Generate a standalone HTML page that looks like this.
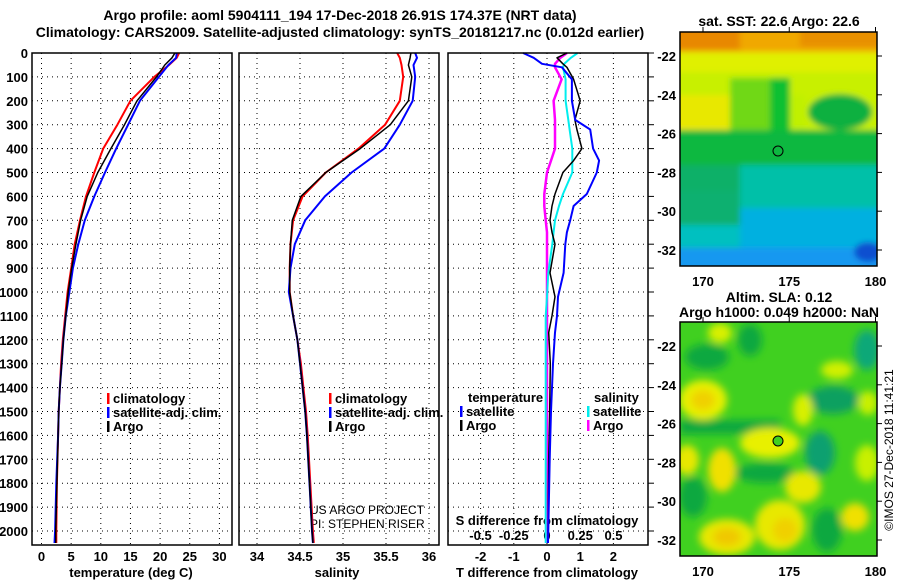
<!DOCTYPE html>
<html><head><meta charset="utf-8">
<style>
body{margin:0;background:#fff;}
svg{display:block;font-family:"Liberation Sans",sans-serif;}
.t{font-weight:bold;font-size:14px;}
</style></head>
<body>
<svg id="c" width="900" height="580" viewBox="0 0 900 580" xmlns="http://www.w3.org/2000/svg">
<defs>
<filter id="bl" filterUnits="userSpaceOnUse" x="650" y="0" width="250" height="300"><feGaussianBlur stdDeviation="3"/></filter>
<filter id="bl2" filterUnits="userSpaceOnUse" x="650" y="290" width="250" height="290"><feGaussianBlur stdDeviation="4"/></filter>
<clipPath id="m1c"><rect x="680" y="32" width="197" height="234"/></clipPath>
<clipPath id="m2c"><rect x="680" y="322" width="197" height="234"/></clipPath>
</defs>
<text class="t" x="340" y="20" text-anchor="middle">Argo profile: aoml 5904111_194 17-Dec-2018 26.91S 174.37E (NRT data)</text>
<text class="t" x="340" y="37" text-anchor="middle">Climatology: CARS2009. Satellite-adjusted climatology: synTS_20181217.nc (0.012d earlier)</text>

<!-- map 1 -->
<g clip-path="url(#m1c)">
<rect x="680" y="32" width="197" height="234" fill="#10b840"/>
<g filter="url(#bl)">
<rect x="670" y="20" width="220" height="35" fill="#f0a800"/>
<rect x="670" y="25" width="70" height="25" fill="#e88800"/>
<rect x="800" y="25" width="80" height="22" fill="#e89000"/>
<rect x="670" y="52" width="220" height="22" fill="#e0f000"/>
<rect x="670" y="72" width="220" height="60" fill="#c8f000"/>
<rect x="670" y="95" width="65" height="35" fill="#e8e800"/>
<rect x="730" y="78" width="45" height="55" fill="#70d818"/>
<rect x="770" y="78" width="20" height="58" fill="#10c030"/>
<rect x="790" y="95" width="15" height="40" fill="#c0f000"/>
<ellipse cx="840" cy="112" rx="32" ry="18" fill="#10b040"/>
<rect x="670" y="130" width="220" height="40" fill="#10b840"/>
<rect x="670" y="165" width="220" height="25" fill="#10b068"/>
<rect x="740" y="165" width="150" height="50" fill="#00c0a8"/>
<rect x="670" y="190" width="70" height="35" fill="#10b070"/>
<rect x="740" y="208" width="150" height="42" fill="#00b0e0"/>
<rect x="670" y="225" width="70" height="25" fill="#00c0c0"/>
<rect x="670" y="248" width="220" height="30" fill="#1898f0"/>
<ellipse cx="868" cy="252" rx="14" ry="10" fill="#1050d0"/>
</g>
<circle cx="778" cy="151" r="5" fill="none" stroke="#000" stroke-width="1"/>
</g>
<rect x="680" y="32" width="197" height="234" fill="none" stroke="#000" stroke-width="1.5"/>
<text class="t" font-size="13" x="779" y="26" text-anchor="middle">sat. SST: 22.6 Argo: 22.6</text>

<!-- map 2 -->
<g clip-path="url(#m2c)">
<rect x="680" y="322" width="197" height="234" fill="#40d020"/>
<g filter="url(#bl2)">
<ellipse cx="707" cy="357" rx="22" ry="13" fill="#10a840"/>
<ellipse cx="720" cy="333" rx="12" ry="10" fill="#d8f000"/>
<ellipse cx="750" cy="340" rx="12" ry="16" fill="#10a840"/>
<ellipse cx="703" cy="400" rx="24" ry="20" fill="#e8f000"/>
<ellipse cx="703" cy="400" rx="12" ry="10" fill="#f0d000"/>
<ellipse cx="867" cy="350" rx="13" ry="20" fill="#10a878"/>
<ellipse cx="837" cy="370" rx="16" ry="9" fill="#d0f000"/>
<ellipse cx="833" cy="400" rx="26" ry="14" fill="#10a060"/>
<rect x="680" y="420" width="100" height="14" fill="#10a840"/>
<ellipse cx="770" cy="443" rx="30" ry="15" fill="#e8f000"/>
<ellipse cx="803" cy="410" rx="10" ry="16" fill="#d8f000"/>
<ellipse cx="820" cy="453" rx="15" ry="22" fill="#10a070"/>
<ellipse cx="687" cy="460" rx="12" ry="15" fill="#e8e800"/>
<ellipse cx="722" cy="470" rx="14" ry="22" fill="#f0e000"/>
<ellipse cx="693" cy="497" rx="14" ry="20" fill="#10a840"/>
<ellipse cx="765" cy="473" rx="30" ry="10" fill="#10a840"/>
<ellipse cx="803" cy="487" rx="18" ry="16" fill="#e8e800"/>
<ellipse cx="780" cy="525" rx="25" ry="25" fill="#e8e800"/>
<ellipse cx="785" cy="530" rx="12" ry="12" fill="#f0d000"/>
<ellipse cx="727" cy="537" rx="28" ry="18" fill="#e8e800"/>
<ellipse cx="727" cy="537" rx="14" ry="9" fill="#f0c800"/>
<ellipse cx="827" cy="530" rx="15" ry="22" fill="#10a840"/>
<ellipse cx="855" cy="517" rx="14" ry="14" fill="#f0e000"/>
<ellipse cx="867" cy="463" rx="12" ry="18" fill="#c8f000"/>
<ellipse cx="868" cy="403" rx="10" ry="12" fill="#c8f000"/>
</g>
<circle cx="778" cy="441" r="5" fill="#40d020" stroke="#000" stroke-width="1"/>
</g>
<rect x="680" y="322" width="197" height="234" fill="none" stroke="#000" stroke-width="1.5"/>
<text class="t" font-size="13" x="779" y="302" text-anchor="middle">Altim. SLA: 0.12</text>
<text class="t" font-size="13" x="779" y="317" text-anchor="middle">Argo h1000: 0.049 h2000: NaN</text>
<text x="893" y="450" font-size="12" text-anchor="middle" transform="rotate(-90 893 450)">©IMOS 27-Dec-2018 11:41:21</text>

<g id="plots"></g>
</svg>
<script>
// depth levels (m)
const depthsT = [0,20,50,100,200,300,400,500,600,700,800,900,1000,1100,1200,1300,1400,1500,1600,1800,2000,2050];
const tempClim = [23.2,22.8,21.5,19.0,15.0,12.8,10.4,8.9,7.5,6.5,5.6,5.0,4.4,4.0,3.6,3.3,3.1,2.9,2.8,2.6,2.5,2.5];
const tempSat  = [22.8,22.7,21.4,19.8,16.6,14.6,12.6,10.7,8.9,7.3,6.2,5.3,4.7,4.1,3.7,3.4,3.1,2.9,2.8,2.5,2.3,2.2];
const tempArgo = [22.5,22.0,20.8,19.4,16.1,14.0,11.7,9.5,7.7,6.6,5.8,5.1,4.5,4.1,3.7,3.4,3.1,2.9,2.8,2.6,2.4,2.4];
const salClim = [35.63,35.66,35.68,35.70,35.66,35.49,35.18,34.80,34.53,34.42,34.39,34.38,34.38,34.42,34.47,34.51,34.54,34.57,34.59,34.62,34.65,34.66];
const salSat  = [35.84,35.86,35.82,35.84,35.81,35.66,35.48,35.10,34.79,34.56,34.44,34.39,34.37,34.42,34.47,34.50,34.53,34.56,34.58,34.61,34.64,34.65];
const salArgo = [35.79,35.78,35.76,35.80,35.76,35.55,35.20,34.80,34.51,34.41,34.39,34.38,34.38,34.42,34.47,34.50,34.53,34.56,34.58,34.61,34.64,34.65];
const depthsD = [0,20,45,60,110,200,280,320,400,450,500,590,640,700,750,800,920,1020,1100,1170,1300,1500,1700,2000,2050];
const tDiffSat  = [-0.72,-0.4,-0.15,0.45,0.75,0.75,0.85,1.3,1.39,1.57,1.5,1.2,0.8,0.7,0.6,0.55,0.5,0.33,0.3,0.24,0.18,0.12,0.08,0.04,0.03];
const tDiffArgo = [0.6,0.3,0.48,0.6,0.8,1.0,0.84,0.9,1.05,0.8,0.48,0.24,0.15,0.09,0.15,0.24,0.09,0.24,0.15,0.05,0.1,0.08,0.05,0.03,0.03];
const sDiffSat  = [0.23,0.18,0.13,0.12,0.14,0.14,0.16,0.17,0.19,0.19,0.19,0.12,0.09,0.06,0.05,0.04,0.01,0.0,-0.01,-0.01,-0.01,-0.01,-0.01,-0.01,-0.01];
const sDiffArgo = [0.15,0.1,0.06,0.06,0.11,0.05,0.06,0.06,0.06,0.03,0.0,-0.02,-0.02,-0.01,0.0,0.0,0.0,0.0,0.0,0.0,0.0,0.0,0.0,0.0,0.0];
const depthTicks = [0,100,200,300,400,500,600,700,800,900,1000,1100,1200,1300,1400,1500,1600,1700,1800,1900,2000];
const tempTicks = [0,5,10,15,20,25,30];
const salTicks = [34,34.5,35,35.5,36];
const tDiffTicks = [-2,-1,0,1,2];
const sDiffTicks = [-0.5,-0.25,0,0.25,0.5];
const sDiffLabels = ['-0.5','-0.25','0','0.25','0.5'];

const NS='http://www.w3.org/2000/svg';
const g=document.getElementById('plots');
const yD=d=>53+d*0.239;
const xT=v=>41.5+v*5.93;
const xS=v=>257+(v-34)*86;
const xTD=v=>547+v*33.2;
const xSD=v=>547+v*133;
function el(tag,attrs,parent){const e=document.createElementNS(NS,tag);for(const k in attrs)e.setAttribute(k,attrs[k]);(parent||g).appendChild(e);return e;}
function txt(x,y,s,anchor,cls,size){const e=el('text',{x:x,y:y,'text-anchor':anchor||'start','font-size':size||13,'font-weight':cls==='n'?'normal':'bold'});e.textContent=s;return e;}

const panels=[{x0:32,x1:232,name:'temperature-panel'},{x0:239,x1:439,name:'salinity-panel'},{x0:448,x1:648,name:'difference-panel'}];
panels.forEach((p,i)=>{
  const pg=el('g',{});
  
  
  depthTicks.forEach(d=>{el('line',{x1:p.x0,x2:p.x1,y1:yD(d),y2:yD(d),stroke:'#000','stroke-width':1,'stroke-dasharray':'1,4'},pg);});
  const xs = i===0?tempTicks.map(xT):i===1?salTicks.map(xS):tDiffTicks.map(xTD);
  xs.forEach(x=>{el('line',{x1:x,x2:x,y1:53,y2:545,stroke:'#000','stroke-width':1,'stroke-dasharray':'1,4'},pg);});
});
depthTicks.forEach(d=>{const t=txt(28,yD(d)+5,String(d),'end');
  el('line',{x1:648,x2:654,y1:yD(d),y2:yD(d),stroke:'#000','stroke-width':1});});
tempTicks.forEach(v=>{const t=txt(xT(v),561,String(v),'middle');});
salTicks.forEach(v=>{const t=txt(xS(v),561,String(v),'middle');});
tDiffTicks.forEach(v=>{const t=txt(xTD(v),561,String(v),'middle');});
sDiffTicks.forEach((v,i)=>{const t=txt(xSD(v),540,sDiffLabels[i],'middle');});
let t;
t=txt(131,577,'temperature (deg C)','middle');
t=txt(337,577,'salinity','middle');
t=txt(547,577,'T difference from climatology','middle');
t=txt(547,525,'S difference from climatology','middle');
t=txt(310,514,'US ARGO PROJECT','start','n',12);
t=txt(310,528,'PI: STEPHEN RISER','start','n',12);

function line(vals,depths,sx,color,w,name){
  const pts=vals.map((v,i)=>sx(v).toFixed(1)+','+yD(depths[i]).toFixed(1)).join(' ');
  const e=el('polyline',{points:pts,fill:'none',stroke:color,'stroke-width':w,'stroke-linejoin':'round'});
  
  
}
line(tempClim,depthsT,xT,'#f00',2,'temp-climatology-line');
line(tempSat,depthsT,xT,'#00f',2,'temp-satellite-line');
line(tempArgo,depthsT,xT,'#000',1.5,'temp-argo-line');
line(salClim,depthsT,xS,'#f00',2,'sal-climatology-line');
line(salSat,depthsT,xS,'#00f',2,'sal-satellite-line');
line(salArgo,depthsT,xS,'#000',1.5,'sal-argo-line');
line(sDiffArgo,depthsD,xSD,'#f0f',2.5,'sdiff-argo-line');
line(sDiffSat,depthsD,xSD,'#0ee',2,'sdiff-satellite-line');
line(tDiffArgo,depthsD,xTD,'#000',1.5,'tdiff-argo-line');
line(tDiffSat,depthsD,xTD,'#00f',2,'tdiff-satellite-line');

function leg(x,y,color,label,name){
  const lg=el('g',{});
  
  
  el('rect',{x:x,y:y-10,width:2.5,height:11,fill:color},lg);
  const tt=el('text',{x:x+6,y:y,'font-size':13,'font-weight':'bold'},lg);tt.textContent=label;
}
leg(107,403,'#f00','climatology','legend-temp-climatology');
leg(107,417,'#00f','satellite-adj. clim.','legend-temp-satellite');
leg(107,431,'#000','Argo','legend-temp-argo');
leg(329,403,'#f00','climatology','legend-sal-climatology');
leg(329,417,'#00f','satellite-adj. clim.','legend-sal-satellite');
leg(329,431,'#000','Argo','legend-sal-argo');
t=txt(468,402,'temperature');
t=txt(594,402,'salinity');
leg(460,416,'#00f','satellite','legend-tdiff-satellite');
leg(460,430,'#000','Argo','legend-tdiff-argo');
leg(587,416,'#0ee','satellite','legend-sdiff-satellite');
leg(587,430,'#f0f','Argo','legend-sdiff-argo');

panels.forEach(p=>{el('rect',{x:p.x0,y:53,width:p.x1-p.x0,height:492,fill:'none',stroke:'#000','stroke-width':1.5});});

const lonTicks=[170,175,180];
const latTicks=[-22,-24,-26,-28,-30,-32];
const xLon=v=>703+(v-170)*17.25;
const yLat1=v=>56+(-22-v)*19.4;
[0,290].forEach(off=>{
  latTicks.forEach(v=>{const y=yLat1(v)+off;
    const tl=txt(676,y+5,String(v),'end');
    el('line',{x1:877,x2:882,y1:y,y2:y,stroke:'#000'});});
  lonTicks.forEach(v=>{const x=xLon(v);
    const tl=txt(x,286+off,String(v),'middle');
    el('line',{x1:x,x2:x,y1:27+off,y2:32+off,stroke:'#000'});});
});
</script>
</body></html>
